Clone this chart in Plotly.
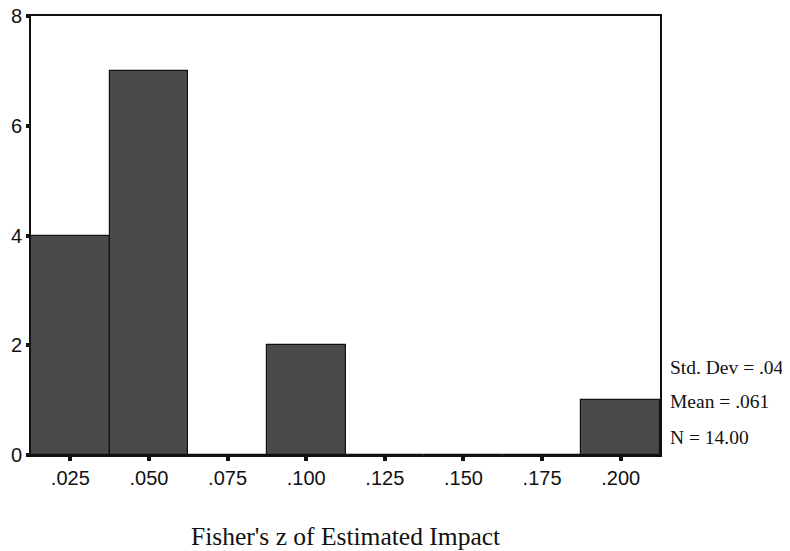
import plotly.graph_objects as go

bin_centers = [0.025, 0.050, 0.075, 0.100, 0.125, 0.150, 0.175, 0.200]
counts = [4, 7, 0, 2, 0, 0, 0, 1]
x_tick_vals = [0.025, 0.050, 0.075, 0.100, 0.125, 0.150, 0.175, 0.200]
x_tick_text = [".025", ".050", ".075", ".100", ".125", ".150", ".175", ".200"]
y_tick_vals = [0, 2, 4, 6, 8]
stats_text = ["Std. Dev = .04", "Mean = .061", "N = 14.00"]
stats_y = [0.200, 0.121, 0.041]

fig = go.Figure()
fig.add_trace(go.Bar(
    x=bin_centers, y=counts, width=0.025,
    marker=dict(color="#4a4a4a", line=dict(color="#111111", width=1.2)),
    showlegend=False,
))

for t, yy in zip(stats_text, stats_y):
    fig.add_annotation(text=t, xref="paper", yref="paper", x=1.0127, y=yy,
                       xanchor="left", yanchor="middle", showarrow=False,
                       font=dict(family="Liberation Serif", size=19.5, color="#111111"))

fig.add_annotation(text="Fisher's z of Estimated Impact", xref="paper", yref="paper",
                   x=0.5, y=-0.185, xanchor="center", yanchor="middle", showarrow=False,
                   font=dict(family="Liberation Serif", size=25.5, color="#111111"))

fig.update_layout(
    width=790, height=551,
    margin=dict(l=23, r=138, t=8, b=104),
    paper_bgcolor="white", plot_bgcolor="white",
    bargap=0,
    xaxis=dict(range=[0.0125, 0.2125], tickvals=x_tick_vals, ticktext=x_tick_text,
               ticks="outside", ticklen=4, tickwidth=4, tickcolor="#111111",
               showline=True, linecolor="#111111", linewidth=1.5, mirror=True,
               showgrid=False, zeroline=False, automargin=False,
               ticklabeloverflow="allow",
               tickfont=dict(family="Liberation Sans", size=20, color="#111111")),
    yaxis=dict(range=[0, 8], tickvals=y_tick_vals,
               ticks="outside", ticklen=3, tickwidth=4, tickcolor="#111111",
               showline=True, linecolor="#111111", linewidth=2, mirror=True,
               showgrid=False, zeroline=False, automargin=False,
               ticklabeloverflow="allow",
               tickfont=dict(family="Liberation Sans", size=20, color="#111111")),
)

fig.write_html("out.html")
